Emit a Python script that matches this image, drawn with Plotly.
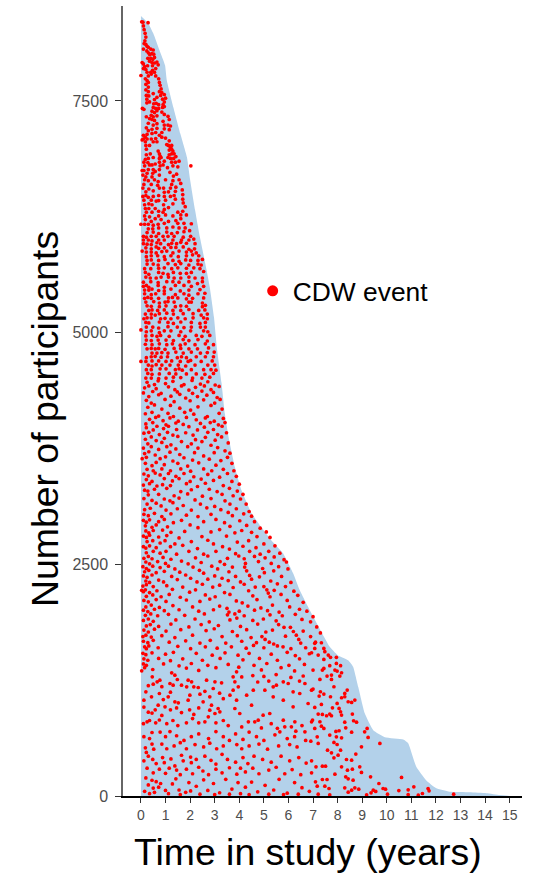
import plotly.graph_objects as go

area_t = [0,.3,.5,.75,.98,1.05,1.32,1.6,1.87,2.0,2.2,2.4,2.67,2.8,2.97,3.1,3.28,3.41,3.59,3.82,4.09,4.5,4.9,5.3,5.78,6.19,6.46,6.87,7.28,7.68,8.0,8.43,8.63,8.84,9.1,9.45,9.92,10.67,10.87,11.2,11.6,12.0,12.55,13.37,14.05,14.6,15]
area_n = [8417,8337,8230,8050,7885,7725,7430,7150,6895,6650,6325,6030,5675,5490,5170,4810,4455,4130,3840,3550,3300,3050,2900,2760,2620,2405,2220,2005,1800,1610,1520,1465,1395,1175,895,710,635,610,570,315,170,85,45,40,30,10,0]

band_8000 = [(.03,8355),(.08,8350),(.29,8345),(.1,8310),(.13,8270),(.17,8230),(.2,8190),(.16,8150),(.13,8120),(.2,8110),(.25,8090),(.1,8060),(.3,8080),(.4,8060),(.5,8050),(.3,8020),(.36,8000),(.44,8010),(.52,8005),(.24,8040)]
band_7500 = [(.28,7960),(.4,7960),(.48,7950),(.55,7970),(.35,7930),(.45,7915),(.55,7910),(.05,7915),(.1,7900),(.47,7880),(.65,7920),(.7,7890),(.15,7870),(.27,7880),(.1,7850),(.2,7840),(.47,7830),(.6,7850),(.25,7810),(.4,7810),(.55,7810),(.0,7775),(.3,7770),(.42,7790),(.6,7770),(.18,7740),(.25,7720),(.3,7700),(.72,7740),(.75,7700),(.2,7680),(.3,7650),(.78,7670),(.82,7630),(.2,7620),(.3,7600),(.75,7600),(.85,7590),(.22,7560),(.32,7555),(.5,7580),(.8,7560),(.95,7570),(1.0,7530),(.24,7520),(.55,7515),(.65,7540),(.88,7520)]
band_7000 = [(.24,7480),(.35,7490),(.95,7490),(.52,7470),(.62,7475),(.72,7460),(.9,7460),(.06,7420),(.12,7410),(.5,7430),(.6,7420),(.72,7420),(.88,7430),(.95,7440),(.45,7390),(.55,7375),(.65,7395),(.85,7380),(.42,7345),(.5,7330),(.65,7340),(.95,7355),(1.1,7335),(.22,7330),(.35,7310),(.45,7300),(.55,7290),(.9,7280),(1.15,7300),(.3,7260),(.5,7240),(.65,7255),(.95,7240),(1.1,7240),(1.2,7230),(.22,7210),(.3,7180),(.45,7195),(.65,7205),(.95,7200),(1.15,7190),(.25,7140),(.45,7150),(.6,7160),(.85,7160),(.1,7130),(.18,7110),(.25,7090),(.42,7090),(.6,7095),(.75,7130),(.85,7110),(1.0,7100),(.1,7090),(.05,7080),(.18,7060),(.5,7060),(.65,7060),(1.15,7070),(.2,7020),(.35,7020),(1.05,7030),(1.2,7000),(1.12,7020),(1.25,7020)]
band_6500 = [(.22,6980),(1.15,6970),(1.25,6980),(1.3,6960),(.7,6960),(.75,6930),(.22,6920),(.38,6930),(.78,6905),(1.15,6920),(1.25,6930),(1.35,6930),(.18,6870),(.3,6880),(.5,6890),(.75,6880),(.82,6890),(1.1,6890),(1.2,6880),(1.33,6880),(1.42,6900),(.12,6840),(.28,6835),(.75,6840),(.95,6850),(1.25,6840),(1.4,6840),(.15,6800),(.35,6810),(.45,6810),(.58,6820),(.78,6800),(.9,6810),(1.3,6800),(1.55,6850),(2.03,6800),(.12,6750),(.3,6760),(.5,6760),(.75,6760),(1.08,6780),(1.5,6790),(.25,6720),(.48,6720),(.58,6740),(1.18,6730),(.05,6750),(.08,6700),(.2,6680),(.45,6680),(.75,6700),(1.32,6690),(1.45,6710),(.15,6650),(.3,6640),(.55,6650),(.7,6630),(1.0,6650),(1.3,6640),(1.55,6650),(.12,6600),(.42,6600),(.68,6590),(1.25,6600),(1.62,6610),(.08,6560),(.32,6550),(.75,6560),(.92,6560),(1.2,6560),(1.42,6570),(.2,6520),(.5,6530),(.95,6515),(1.12,6520),(1.4,6525),(1.68,6540)]
band_6000 = [(.08,6470),(.2,6480),(.3,6460),(.5,6470),(.72,6480),(.95,6470),(1.2,6470),(1.35,6480),(1.7,6490),(.12,6430),(.42,6430),(.62,6420),(.72,6425),(1.0,6430),(1.4,6440),(1.7,6440),(.15,6380),(.32,6390),(.45,6380),(.92,6380),(1.3,6390),(1.72,6400),(.18,6340),(.32,6340),(.58,6340),(.95,6330),(1.12,6350),(1.8,6360),(.22,6300),(.45,6300),(.72,6310),(.9,6300),(1.5,6300),(1.7,6310),(.15,6260),(.35,6250),(.72,6260),(1.0,6270),(1.3,6260),(1.62,6270),(1.85,6270),(.18,6220),(.42,6200),(.58,6230),(.82,6220),(1.12,6200),(1.42,6210),(1.62,6230),(.0,6170),(.15,6170),(.3,6170),(.5,6160),(.7,6170),(.95,6180),(1.5,6180),(1.75,6180),(2.05,6175),(.3,6120),(.48,6120),(.72,6130),(1.05,6130),(1.3,6140),(1.55,6130),(1.8,6130),(.25,6080),(.5,6085),(.72,6070),(1.05,6085),(1.25,6070),(1.48,6080),(1.75,6090),(1.98,6100),(2.02,6040),(.1,6040),(.22,6030),(.42,6040),(.62,6040),(.9,6040),(1.1,6040),(1.35,6040),(1.72,6030),(.1,6000),(.3,6000),(.45,5990),(.72,6000),(.95,6000),(1.3,6000),(1.65,6000),(1.95,6000),(2.15,6010)]
band_5500 = [(.1,5960),(.25,5955),(.42,5950),(.65,5970),(.8,5960),(1.12,5950),(1.25,5965),(1.45,5960),(1.62,5975),(1.85,5965),(2.2,5960),(.2,5915),(.42,5905),(.62,5925),(.72,5910),(.95,5915),(1.22,5920),(1.42,5920),(1.72,5925),(1.95,5900),(2.18,5905),(.05,5880),(.22,5870),(.42,5870),(.62,5860),(.85,5875),(1.05,5880),(1.3,5860),(1.55,5880),(1.85,5870),(2.05,5880),(2.25,5860),(.22,5820),(.42,5830),(.68,5830),(.95,5820),(1.22,5830),(1.52,5820),(1.85,5830),(2.1,5840),(2.35,5830),(.25,5780),(.42,5785),(.72,5780),(.98,5790),(1.3,5780),(1.55,5770),(1.82,5785),(2.02,5780),(2.32,5780),(2.5,5790),(.25,5740),(.5,5740),(.7,5730),(1.1,5745),(1.4,5735),(1.62,5745),(1.95,5730),(2.32,5740),(2.45,5730),(.15,5690),(.4,5690),(.72,5695),(.95,5700),(1.25,5690),(1.5,5700),(1.85,5695),(2.15,5700),(2.4,5690),(.18,5650),(.32,5630),(.72,5650),(.9,5640),(1.1,5630),(1.32,5650),(1.6,5640),(1.85,5640),(2.05,5650),(2.55,5660),(.2,5600),(.38,5590),(.62,5590),(.82,5600),(1.12,5600),(1.35,5590),(1.62,5590),(1.95,5600),(2.2,5590),(2.5,5590),(.1,5545),(.4,5550),(.7,5540),(1.05,5550),(1.3,5550),(1.55,5545),(1.95,5550),(2.3,5530),(2.5,5550),(.1,5500),(.22,5510),(.32,5490),(.7,5510),(.95,5490),(1.4,5510),(1.75,5510),(2.05,5500),(2.55,5500)]
band_5000 = [(.15,5460),(.32,5460),(.45,5470),(.72,5455),(.95,5450),(1.22,5470),(1.6,5450),(1.95,5460),(2.4,5465),(.15,5420),(.42,5410),(.6,5420),(.95,5420),(1.4,5410),(1.75,5420),(1.95,5405),(2.32,5420),(2.6,5425),(.15,5370),(.28,5380),(.42,5370),(.72,5370),(1.12,5375),(1.28,5380),(1.5,5375),(1.85,5365),(2.1,5370),(2.55,5375),(.2,5330),(.52,5335),(.75,5320),(.98,5330),(1.1,5335),(1.35,5330),(1.95,5330),(2.05,5330),(2.5,5320),(.25,5290),(.42,5285),(.75,5280),(1.02,5290),(1.4,5280),(1.62,5290),(1.85,5285),(2.5,5280),(2.62,5295),(.32,5240),(.45,5245),(.68,5240),(.95,5245),(1.3,5240),(1.62,5240),(1.95,5250),(2.35,5240),(2.6,5245),(.18,5200),(.42,5200),(.58,5190),(.75,5205),(1.05,5210),(1.32,5200),(1.72,5205),(2.12,5205),(2.45,5190),(2.7,5200),(.12,5150),(.25,5160),(.42,5160),(.8,5150),(.98,5155),(1.22,5150),(1.5,5160),(1.8,5150),(2.12,5160),(2.55,5160),(2.7,5150),(.2,5110),(.32,5105),(.75,5115),(1.1,5110),(1.32,5100),(1.62,5115),(2.05,5110),(2.4,5100),(2.62,5110),(.0,5030),(.22,5060),(.48,5060),(.72,5050),(1.1,5065),(1.48,5060),(1.75,5055),(2.05,5060),(2.42,5060),(2.62,5060),(.22,5010),(.42,5020),(.75,5000),(.95,5020),(1.22,5020),(1.62,5010),(2.02,5020),(2.55,5020),(2.72,5010)]
band_4500 = [(.2,4965),(.45,4970),(.65,4960),(.8,4970),(1.15,4960),(1.55,4970),(1.8,4960),(2.25,4970),(2.48,4960),(2.8,4970),(.22,4920),(.42,4915),(.7,4920),(1.02,4920),(1.32,4915),(1.72,4925),(1.95,4915),(2.32,4925),(2.7,4910),(.18,4875),(.45,4870),(.75,4880),(1.05,4870),(1.28,4880),(1.6,4865),(1.8,4880),(2.2,4870),(2.62,4880),(2.95,4870),(.25,4825),(.42,4830),(.58,4825),(.72,4830),(.98,4820),(1.35,4830),(1.62,4830),(1.95,4825),(2.3,4825),(2.75,4835),(.0,4690),(.45,4780),(.65,4780),(.85,4785),(1.1,4780),(1.42,4790),(1.72,4780),(2.05,4790),(2.42,4780),(2.7,4785),(2.98,4790),(.22,4730),(.42,4740),(.58,4745),(.82,4735),(1.08,4740),(1.48,4730),(1.65,4740),(1.85,4730),(2.25,4740),(2.62,4740),(2.95,4740),(.2,4690),(.45,4695),(.72,4695),(1.02,4690),(1.25,4695),(1.6,4690),(1.92,4690),(2.02,4700),(2.45,4690),(2.9,4695),(.3,4650),(.45,4640),(.62,4655),(.85,4650),(1.18,4650),(1.52,4650),(1.82,4640),(2.2,4650),(2.72,4650),(3.0,4650),(.22,4600),(.42,4600),(.78,4610),(1.02,4610),(1.4,4600),(1.55,4610),(1.68,4595),(2.05,4600),(2.55,4600),(2.85,4600),(3.05,4595),(.28,4560),(.45,4550),(.75,4555),(1.15,4560),(1.42,4555),(1.85,4555),(2.25,4555),(2.6,4550),(2.95,4560),(.2,4510),(.42,4510),(.72,4505),(1.02,4510),(1.32,4520),(1.62,4515),(2.1,4510),(2.48,4510),(2.8,4520)]
band_4000 = [(.25,4465),(.55,4440),(.7,4480),(1.0,4450),(1.3,4475),(1.75,4440),(2.08,4485),(2.42,4445),(2.72,4470),(3.02,4435),(.15,4405),(.32,4425),(.62,4395),(1.12,4415),(1.38,4385),(1.65,4425),(1.95,4380),(2.22,4410),(2.58,4425),(2.85,4385),(3.18,4420),(.1,4350),(.48,4365),(.82,4345),(1.48,4360),(2.1,4345),(2.48,4370),(2.95,4355),(.32,4310),(.72,4330),(1.22,4315),(1.58,4335),(1.82,4295),(2.3,4310),(2.68,4325),(3.1,4300),(.22,4270),(.42,4240),(.98,4280),(1.35,4255),(2.0,4265),(2.55,4275),(3.0,4240),(3.22,4280),(.28,4195),(.55,4220),(.85,4175),(1.2,4215),(1.58,4185),(2.02,4165),(2.32,4200),(2.85,4215),(3.3,4175),(.18,4125),(.45,4140),(.72,4100),(1.1,4130),(1.32,4095),(1.78,4140),(2.15,4120),(2.7,4095),(3.18,4130),(.35,4065),(.6,4085),(.9,4050),(1.18,4080),(1.52,4045),(1.85,4085),(2.25,4060),(2.62,4080),(2.98,4045),(3.35,4075),(.2,4015),(.48,4030),(1.02,4005),(1.42,4025),(1.72,4010),(2.42,4020),(2.82,4030),(3.15,4005),(3.42,4030)]
band_3500 = [(.22,3975),(.5,3950),(.65,3990),(.92,3965),(1.12,3990),(1.45,3955),(1.95,3985),(2.3,3950),(2.58,3980),(2.95,3955),(3.3,3990),(.12,3915),(.32,3925),(.75,3900),(1.08,3925),(1.3,3895),(1.82,3920),(2.12,3895),(2.72,3925),(3.12,3900),(3.48,3920),(.18,3850),(.42,3875),(.62,3835),(.95,3860),(1.5,3880),(2.22,3845),(2.62,3870),(3.02,3840),(3.28,3875),(.28,3800),(.85,3815),(1.22,3790),(1.65,3825),(2.05,3800),(2.48,3825),(2.85,3785),(3.55,3810),(.1,3755),(.42,3770),(.72,3740),(1.05,3770),(1.42,3745),(1.9,3770),(2.32,3755),(3.12,3760),(3.42,3725),(.15,3695),(.32,3715),(.58,3680),(1.18,3710),(1.58,3685),(2.18,3705),(2.55,3670),(2.98,3705),(3.62,3700),(.05,3640),(.22,3655),(.78,3640),(1.0,3660),(1.3,3615),(1.75,3650),(2.1,3625),(2.78,3635),(3.25,3620),(3.52,3655),(.18,3590),(.45,3565),(.62,3600),(.95,3575),(1.5,3590),(1.9,3560),(2.35,3595),(3.05,3570),(3.7,3590),(.25,3525),(.5,3510),(.85,3530),(1.2,3510),(1.62,3530),(2.02,3505),(2.55,3530),(2.88,3510),(3.35,3525),(3.78,3510)]
band_3000 = [(.12,3475),(.3,3455),(.58,3485),(.78,3465),(1.12,3480),(1.42,3450),(1.75,3480),(2.15,3445),(2.72,3470),(3.2,3440),(3.52,3480),(3.88,3450),(.22,3415),(.45,3395),(.95,3425),(1.28,3400),(1.55,3425),(2.0,3395),(2.45,3420),(2.95,3405),(3.7,3395),(.1,3355),(.35,3370),(.65,3345),(.88,3360),(1.2,3350),(1.85,3370),(2.3,3340),(2.62,3375),(3.35,3350),(4.0,3365),(.15,3300),(.28,3290),(.55,3310),(1.05,3320),(1.62,3285),(2.05,3305),(2.78,3310),(3.1,3285),(3.6,3320),(3.92,3290),(.3,3250),(.72,3255),(1.35,3240),(1.9,3260),(2.5,3235),(3.3,3255),(3.75,3240),(4.15,3255),(.12,3210),(.45,3190),(.95,3205),(1.18,3185),(1.55,3215),(2.2,3195),(2.85,3210),(3.42,3185),(4.05,3205),(.25,3150),(.62,3160),(.82,3130),(1.3,3165),(1.72,3135),(2.42,3150),(3.0,3125),(3.62,3150),(4.28,3150),(.15,3090),(.38,3105),(1.02,3085),(1.48,3100),(2.05,3085),(2.68,3110),(3.25,3090),(3.55,3060),(3.88,3100),(4.4,3070),(.12,3040),(.3,3025),(.55,3050),(.85,3015),(1.22,3045),(1.85,3030),(2.32,3015),(2.85,3040),(3.72,3025),(4.18,3045),(4.5,3020)]
band_2500 = [(.1,2975),(.22,2955),(.35,2980),(.72,2960),(.95,2985),(1.32,2950),(1.65,2975),(2.55,2960),(3.05,2985),(3.4,2950),(4.02,2970),(4.62,2960),(.18,2915),(.45,2900),(.62,2925),(1.08,2905),(2.0,2925),(2.32,2895),(3.62,2910),(4.3,2920),(4.85,2890),(.2,2860),(.32,2840),(.5,2865),(.88,2870),(1.22,2845),(1.78,2855),(2.85,2850),(3.2,2875),(3.82,2840),(4.1,2865),(4.5,2845),(5.1,2850),(.1,2805),(.22,2790),(.35,2815),(.72,2795),(1.05,2810),(1.55,2785),(2.48,2800),(3.48,2805),(4.72,2800),(5.25,2790),(.25,2745),(.48,2755),(.78,2730),(.98,2755),(1.38,2720),(2.05,2745),(2.72,2760),(2.95,2720),(3.92,2740),(4.38,2755),(5.0,2720),(.1,2690),(.2,2675),(.35,2700),(.62,2680),(1.2,2690),(1.7,2705),(2.3,2670),(3.32,2690),(3.6,2665),(4.15,2695),(4.68,2680),(5.45,2700),(.22,2625),(.5,2640),(.78,2620),(1.02,2640),(1.45,2610),(1.95,2640),(2.55,2610),(3.05,2640),(3.85,2615),(4.42,2640),(4.85,2610),(5.2,2640),(5.65,2620),(.12,2565),(.3,2585),(.45,2560),(.9,2575),(1.22,2555),(2.22,2570),(2.72,2590),(3.52,2565),(3.98,2590),(4.2,2560),(4.62,2585),(5.05,2570),(5.42,2580),(5.82,2550),(.2,2525),(.35,2505),(.68,2530),(1.0,2510),(1.65,2535),(1.92,2505),(2.45,2520),(3.22,2530),(3.4,2500),(4.25,2510),(4.78,2530),(5.3,2510),(5.92,2525)]
band_2000 = [(.08,2475),(.22,2455),(.48,2480),(.78,2465),(1.12,2480),(1.38,2450),(2.12,2470),(2.88,2480),(3.12,2450),(3.72,2470),(4.22,2470),(4.95,2455),(5.6,2475),(5.98,2450),(.15,2420),(.32,2435),(.62,2410),(.95,2425),(1.58,2415),(2.38,2435),(2.55,2405),(3.58,2420),(4.3,2430),(4.42,2380),(5.02,2410),(5.4,2430),(.1,2375),(.25,2360),(.45,2385),(1.25,2370),(1.82,2385),(2.02,2350),(3.0,2375),(3.3,2350),(3.85,2370),(4.5,2340),(4.82,2365),(5.72,2370),(.2,2320),(.35,2305),(.72,2330),(.92,2310),(1.48,2335),(2.28,2310),(2.72,2340),(3.55,2325),(4.05,2310),(5.0,2260),(5.12,2225),(5.28,2320),(6.1,2305),(.08,2265),(.22,2280),(.5,2260),(1.05,2270),(1.7,2255),(2.5,2285),(2.92,2255),(3.2,2275),(3.75,2250),(4.2,2285),(4.65,2255),(5.55,2290),(5.88,2260),(.03,2220),(.1,2205),(.18,2225),(.35,2195),(.65,2215),(1.28,2230),(1.98,2200),(2.22,2225),(3.4,2195),(4.38,2215),(5.18,2190),(5.42,2220),(6.22,2210),(.22,2155),(.48,2170),(.82,2150),(1.15,2175),(1.6,2145),(2.62,2170),(3.02,2150),(3.62,2175),(4.55,2160),(5.25,2150),(5.7,2175),(6.38,2165),(.12,2110),(.3,2095),(.62,2120),(1.02,2100),(1.85,2115),(2.4,2100),(2.8,2125),(3.88,2105),(4.12,2085),(4.72,2120),(5.95,2110),(6.6,2090),(.2,2040),(.42,2060),(.75,2035),(1.3,2055),(2.1,2040),(3.2,2050),(3.5,2025),(4.35,2050),(4.88,2030),(5.35,2060),(6.05,2040),(6.45,2015),(.1,2005),(.28,1990),(.55,2015),(.95,2000),(1.55,2010),(2.35,1995),(2.95,2010),(3.58,1985),(4.0,1995),(4.62,2005),(5.15,2000),(5.62,1985),(6.75,1995)]
band_1500 = [(.18,1950),(.4,1965),(.68,1945),(1.12,1960),(1.78,1950),(2.58,1965),(3.52,1955),(3.82,1965),(3.9,1920),(4.2,1945),(5.25,1955),(5.75,1945),(6.28,1960),(7.0,1935),(.1,1895),(.3,1910),(.5,1885),(1.42,1900),(2.2,1910),(2.78,1880),(3.62,1900),(4.55,1895),(4.98,1910),(5.5,1890),(5.6,1850),(6.55,1905),(6.9,1880),(.22,1835),(.38,1850),(.72,1830),(1.22,1855),(1.95,1825),(2.45,1850),(3.15,1840),(4.05,1830),(4.75,1855),(5.82,1820),(6.08,1820),(6.2,1775),(7.15,1825),(.12,1790),(.3,1770),(.55,1800),(1.02,1780),(1.62,1795),(2.65,1785),(2.98,1805),(3.72,1775),(4.3,1795),(5.08,1770),(5.35,1790),(6.32,1735),(6.6,1780),(7.3,1760),(.08,1720),(.2,1735),(.42,1715),(.85,1730),(1.38,1710),(2.1,1735),(3.3,1720),(3.92,1730),(4.48,1710),(4.92,1720),(5.05,1690),(5.22,1660),(5.88,1725),(6.42,1690),(6.9,1720),(.1,1670),(.28,1655),(.5,1680),(1.15,1660),(1.82,1675),(2.4,1650),(2.82,1680),(3.45,1650),(4.1,1670),(4.7,1655),(5.4,1640),(5.55,1620),(6.5,1650),(7.1,1660),(.15,1610),(.22,1590),(.32,1620),(.7,1600),(1.5,1615),(2.02,1590),(2.62,1610),(3.1,1595),(3.68,1610),(4.28,1595),(4.58,1625),(5.0,1600),(5.78,1610),(6.1,1590),(6.7,1600),(.08,1540),(.2,1525),(.45,1545),(1.0,1530),(1.32,1550),(2.25,1540),(2.9,1520),(3.42,1545),(3.95,1520),(4.4,1540),(5.3,1530),(5.95,1550),(6.28,1515),(6.85,1535),(.12,1480),(.28,1465),(.72,1485),(1.2,1460),(1.7,1480),(2.5,1465),(3.22,1485),(4.15,1470),(4.82,1485),(5.55,1465),(6.45,1480),(.1,1425),(.22,1410),(.92,1425),(1.55,1405),(2.05,1430),(2.72,1410),(3.55,1420),(4.6,1410),(5.12,1430),(6.02,1410),(6.65,1420),(.03,1351),(.15,1385),(.48,1365),(1.25,1329),(1.85,1380),(2.35,1355),(3.05,1385),(3.89,1340),(3.98,1390),(4.9,1360),(5.7,1385),(6.25,1350)]
band_1000 = [(.46,1286),(.66,1232),(.77,1250),(.5,1207),(1.38,1304),(1.48,1257),(1.18,1214),(1.31,1196),(1.65,1196),(1.92,1250),(2.06,1232),(2.15,1178),(1.86,1178),(2.33,1171),(2.67,1250),(3.01,1232),(3.28,1221),(2.94,1160),(3.75,1286),(3.82,1232),(3.96,1178),(3.75,1142),(3.62,1088),(.2,1124),(.12,1034),(.43,1070),(.75,1106),(.91,1041),(1.11,1070),(1.38,1016),(1.52,1005),(1.99,1088),(1.92,1034),(2.4,1099),(2.53,1016),(2.8,1070),(3.89,1034),(4.3,1088),(4.57,1142),(5.04,1142),(5.38,1178),(5.51,1196),(5.79,1232),(5.99,1214),(6.19,1124),(6.46,1106),(6.94,1142),(6.67,1214),(5.38,1070),(5.79,1034),(4.1,1285),(4.55,1300),(5.0,1290),(5.5,1310),(6.1,1280),(6.6,1295),(1.2,1120),(2.6,1130),(3.2,1110),(4.75,1230),(5.2,1240),(6.45,1240),(.85,1180),(.3,1190),(3.35,1050)]
band_500 = [(.7,980),(.98,962),(2.87,980),(3.14,944),(2.8,926),(3.01,890),(2.74,854),(3.21,908),(3.82,944),(4.02,890),(4.5,980),(4.97,872),(5.24,890),(6.19,962),(6.8,998),(4.37,800),(4.63,800),(4.77,818),(5.79,818),(6.26,800),(6.94,800),(5.85,746),(6.12,746),(5.65,692),(6.67,692),(.12,960),(.3,905),(.45,895),(.58,930),(.85,870),(1.2,930),(1.45,950),(1.65,900),(1.98,930),(2.15,880),(2.35,950),(.1,780),(.25,800),(.35,815),(.6,790),(.75,820),(1.05,780),(1.3,815),(1.5,760),(1.85,790),(2.1,835),(2.35,790),(2.6,800),(3.05,790),(3.35,815),(3.55,760),(4.1,745),(4.4,690),(4.9,735),(5.3,780),(5.55,730),(6.3,700),(6.55,760),(.12,640),(.35,620),(.45,685),(.78,690),(1.0,640),(1.18,695),(1.45,650),(1.75,600),(2.05,640),(2.35,670),(2.75,620),(3.05,695),(3.35,640),(3.6,600),(3.85,670),(4.15,610),(4.7,640),(5.0,600),(5.45,660),(5.95,620),(6.25,640),(6.7,600),(.18,520),(.45,560),(.52,505),(.85,560),(1.05,510),(1.35,540),(1.6,575),(1.85,510),(2.2,555),(2.55,530),(2.8,570),(3.08,510),(3.35,540),(3.9,555),(4.1,510),(4.4,540),(4.8,560),(5.15,505),(5.6,540),(6.05,555),(6.35,530)]
band_0 = [(.22,470),(.3,430),(.12,380),(.48,395),(.62,350),(.88,415),(.95,360),(1.22,400),(1.38,325),(1.65,440),(1.72,380),(2.02,420),(2.05,360),(2.25,395),(2.6,430),(2.85,385),(3.05,345),(3.3,450),(3.52,395),(3.85,365),(4.15,415),(4.35,350),(4.6,430),(4.95,395),(5.3,365),(5.7,430),(6.05,380),(6.42,415),(6.72,355),(.25,300),(.5,250),(.75,290),(1.0,245),(1.15,300),(1.45,280),(1.6,230),(1.85,290),(2.1,240),(2.35,310),(2.52,270),(2.75,230),(3.05,290),(3.3,250),(3.6,305),(3.9,235),(4.05,300),(4.25,260),(4.55,300),(4.8,240),(5.2,280),(5.5,310),(5.85,240),(6.15,285),(6.5,230),(.2,195),(.3,120),(.45,170),(.5,85),(.62,155),(.72,95),(.8,135),(1.0,60),(1.28,130),(1.42,185),(1.55,65),(1.82,40),(1.95,145),(2.02,55),(2.25,105),(2.55,175),(2.72,60),(2.95,135),(3.2,35),(3.45,180),(3.7,75),(3.95,145),(4.05,25),(4.25,95),(4.5,150),(4.75,45),(5.05,115),(5.4,65),(5.62,180),(5.95,30),(6.25,145),(6.55,90),(6.85,50),(.15,50),(.35,25),(.55,40),(1.12,25),(1.6,15),(2.4,20),(3.0,15),(3.6,20),(4.4,15),(5.2,20),(5.8,15),(6.4,20)]
band_tail = [(7.07,1647),(7.34,1654),(7.44,1593),(7.07,1593),(6.94,1546),(7.21,1521),(7.48,1557),(7.62,1521),(7.71,1496),(7.44,1474),(7.95,1496),(7.95,1431),(8.12,1406),(7.68,1406),(7.44,1377),(7.38,1359),(7.89,1359),(7.0,1359),(7.98,1348),(8.16,1330),(8.09,1294),(7.57,1294),(7.75,1305),(7.75,1258),(7.28,1258),(7.85,1179),(7.0,1154),(8.39,1143),(8.29,1107),(7.3,1125),(7.44,1100),(7.25,1078),(7.71,1071),(8.16,1060),(8.29,1071),(8.43,1017),(8.57,1010),(8.7,1035),(7.98,999),(7.34,988),(7.07,956),(7.79,952),(8.06,945),(8.12,909),(8.16,873),(8.6,884),(7.68,884),(7.38,880),(7.21,884),(7.55,866),(7.75,866),(6.98,819),(8.29,797),(8.65,812),(8.77,797),(7.28,801),(7.34,754),(7.44,729),(7.07,729),(8.33,736),(8.06,704),(7.93,697),(8.57,689),(9.2,729),(9.1,693),(9.24,632),(9.72,567),(8.97,531),(7.68,657),(7.95,639),(8.16,628),(7.17,639),(7.85,578),(7.98,556),(7.21,567),(6.91,592),(7.59,495),(8.12,495),(7.75,466),(8.74,452),(8.02,441),(7.85,412),(8.36,394),(8.57,387),(6.94,380),(7.38,322),(7.51,322),(7.12,315),(8.16,315),(8.9,315),(8.97,254),(8.4,279),(8.6,290),(7.89,236),(9.34,207),(10.6,200),(8.33,207),(8.43,185),(8.63,171),(6.94,250),(7.38,178),(7.57,178),(7.1,153),(9.68,135),(7.17,106),(7.48,106),(7.65,81),(8.29,88),(8.7,88),(8.86,74),(8.57,63),(8.43,41),(9.45,63),(9.55,49),(9.85,81),(9.95,74),(10.49,59),(10.87,67),(11.1,99),(11.68,81),(11.72,56),(11.45,27),(10.87,16),(11.28,9),(10.03,20),(9.36,34),(9.18,13),(12.72,20),(7.21,20),(7.68,13)]

cdw_events = band_8000+band_7500+band_7000+band_6500+band_6000+band_5500+band_5000+band_4500+band_4000+band_3500+band_3000+band_2500+band_2000+band_1500+band_1000+band_500+band_0+band_tail
x_ticks = list(range(16))
y_ticks = [0,2500,5000,7500]

fig = go.Figure()
fig.add_trace(go.Scatter(x=area_t, y=area_n, mode="lines", line=dict(width=0, shape="spline", smoothing=0.4), fill="tozeroy", fillcolor="#B3D1EA", showlegend=False, hoverinfo="skip"))
fig.add_trace(go.Scatter(x=[p[0] for p in cdw_events], y=[p[1] for p in cdw_events], mode="markers", marker=dict(color="#FF0000", size=3.7), showlegend=False))
fig.add_trace(go.Scatter(x=[None], y=[None], mode="markers", name="CDW event", marker=dict(color="#FF0000", size=11)))
fig.update_layout(
    width=533, height=873, autosize=False, paper_bgcolor="white", plot_bgcolor="white",
    margin=dict(l=123, r=11, t=6, b=77),
    font=dict(family="Liberation Sans", color="black"),
    legend=dict(x=0.325, y=0.639, xanchor="left", yanchor="middle", font=dict(size=26.4, color="black"), bgcolor="rgba(0,0,0,0)", itemwidth=30),
    xaxis=dict(range=[-0.73,15.5], tickvals=x_ticks, ticks="outside", ticklen=5, tickwidth=1, tickcolor="#333333", tickfont=dict(size=14, color="#4D4D4D"),
               showgrid=False, zeroline=False, showline=True, linecolor="black", linewidth=2),
    yaxis=dict(range=[0,8525], tickvals=y_ticks, ticks="outside", ticklen=6, tickwidth=1, tickcolor="#333333", tickfont=dict(size=16, color="#4D4D4D"), ticklabelstandoff=4,
               showgrid=False, zeroline=False, showline=True, linecolor="#666666", linewidth=1.5),
    annotations=[
        dict(text="Time in study (years)", xref="paper", yref="paper", x=(308-123)/399, y=(796-852)/790, xanchor="center", yanchor="middle", showarrow=False, font=dict(size=37.4, color="black")),
        dict(text="Number of participants", xref="paper", yref="paper", x=(45-123)/399, y=(796-419)/790, xanchor="center", yanchor="middle", showarrow=False, textangle=-90, font=dict(size=37.4, color="black")),
    ],
)
fig.write_html("out.html", post_script="document.body.style.margin='0';", config=dict(displayModeBar=False))
